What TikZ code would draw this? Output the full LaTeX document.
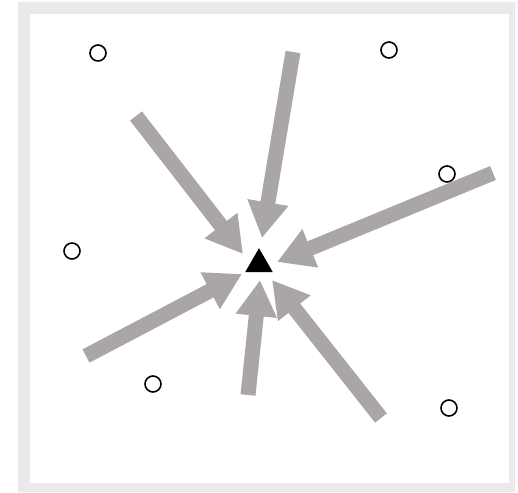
\documentclass[tikz,border=0pt]{standalone}
\usepackage{xcolor}
\usepackage{tikz}
\usetikzlibrary{arrows.meta, shapes.geometric}
\definecolor{arrowgrey}{RGB}{171,166,166}
\definecolor{framegrey}{RGB}{234,234,234}

\begin{document}
\begin{tikzpicture}[
    x=1pt, y=-1pt,
    site/.style={circle, draw=black, line width=1.6pt, minimum size=16pt, inner sep=0pt},
    target/.style={regular polygon, regular polygon sides=3, fill=black, minimum size=32pt, inner sep=0pt},
    pull/.style={draw=arrowgrey, line width=15pt, -{Triangle[length=36pt, width=39pt]}}
]
    \useasboundingbox (0,0) rectangle (518,492);

    % Frame
    \fill[framegrey, even odd rule] (18,2) rectangle (515,492) (30,14) rectangle (509,483);

    % Open sites
    \node (c1) at (98,53) [site] {};
    \node (c2) at (389,50) [site] {};
    \node (c3) at (447,174) [site] {};
    \node (c4) at (72,251) [site] {};
    \node (c5) at (153,384) [site] {};
    \node (c6) at (449,408) [site] {};

    % Centre
    \node (sink) at (259,264.2) [target] {};

    % Tails and tips of the arrows
    \coordinate (s1) at (293,52);   \coordinate (t1) at (262,238);
    \coordinate (s2) at (136,116);  \coordinate (t2) at (243,254);
    \coordinate (s3) at (493,173);  \coordinate (t3) at (277,262);
    \coordinate (s4) at (86,356);   \coordinate (t4) at (242,274);
    \coordinate (s5) at (248,395);  \coordinate (t5) at (260,280);
    \coordinate (s6) at (381,418);  \coordinate (t6) at (272,280);

    % Arrows towards the centre
    \draw [pull] (s1) -- (t1);
    \draw [pull] (s2) -- (t2);
    \draw [pull] (s3) -- (t3);
    \draw [pull] (s4) -- (t4);
    \draw [pull] (s5) -- (t5);
    \draw [pull] (s6) -- (t6);

\end{tikzpicture}
\end{document}
